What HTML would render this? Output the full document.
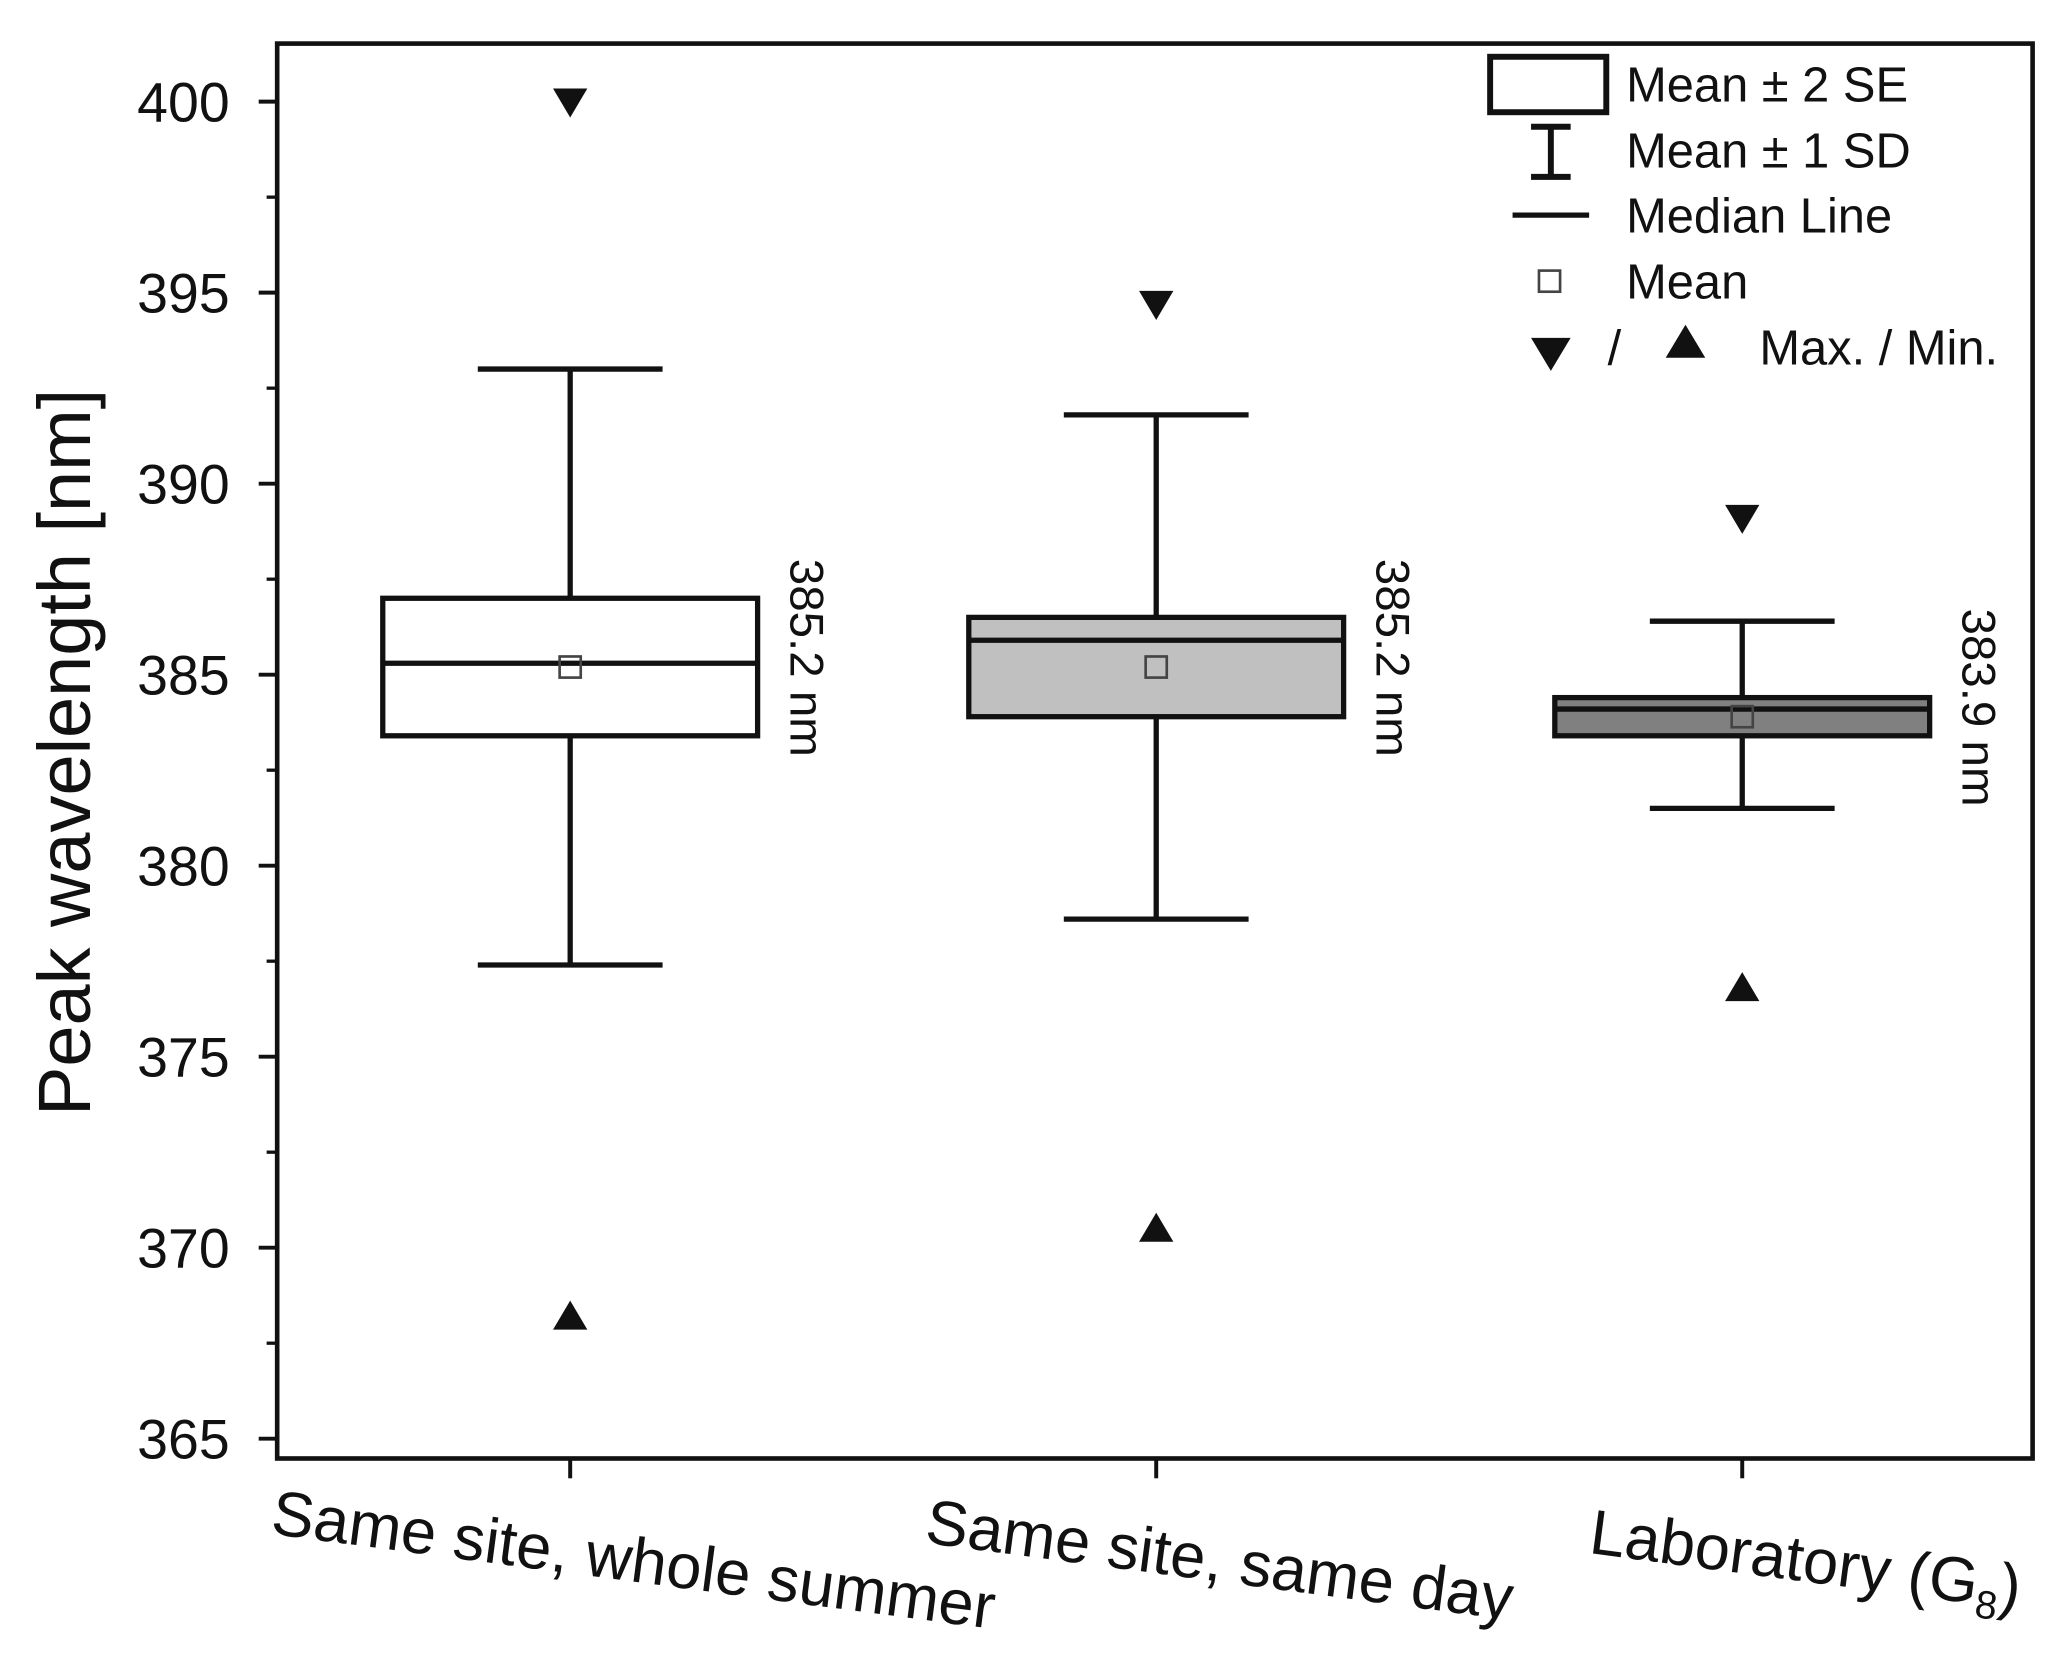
<!DOCTYPE html>
<html><head><meta charset="utf-8"><style>html,body{margin:0;padding:0;background:#fff}svg{display:block}</style></head>
<body>
<svg id="chart" width="2059" height="1673" viewBox="0 0 1560 1267.5" xmlns="http://www.w3.org/2000/svg" font-family="Liberation Sans, sans-serif">
<rect width="1560" height="1267.5" fill="#fff"/>
<g id="marks"></g>
<rect x="210" y="33" width="1330" height="1072" fill="none" stroke="#111" stroke-width="3.5"/>
<text transform="translate(68,570) rotate(-90)" text-anchor="middle" font-size="56" fill="#111">Peak wavelength [nm]</text>
<g font-size="37" fill="#111">
<rect x="1129" y="43" width="88" height="42" fill="#fff" stroke="#111" stroke-width="4.5"/>
<path d="M1160 96h30M1175 96v38M1160 134h30" stroke="#111" stroke-width="4.5" fill="none"/>
<path d="M1146 163h58" stroke="#111" stroke-width="4"/>
<rect x="1166" y="205" width="16" height="16" fill="#fff" stroke="#444" stroke-width="2"/>
<path d="M1160 256h30l-15 25z M1262 271h30l-15 -25z" fill="#111"/>
<text x="1232" y="77">Mean ± 2 SE</text>
<text x="1232" y="127">Mean ± 1 SD</text>
<text x="1232" y="176">Median Line</text>
<text x="1232" y="226">Mean</text>
<text x="1218" y="276">/</text>
<text x="1333" y="276">Max. / Min.</text>
</g>
<script>
const categories = ["Same site, whole summer","Same site, same day","Laboratory (G"];
const boxTop = [387.0, 386.5, 384.4];
const boxBottom = [383.4, 383.9, 383.4];
const medians = [385.3, 385.9, 384.1];
const means = [385.2, 385.2, 383.9];
const sdHigh = [393.0, 391.8, 386.4];
const sdLow = [377.4, 378.6, 381.5];
const maxVals = [400.0, 394.7, 389.1];
const minVals = [368.2, 370.5, 376.8];
const meanLabels = ["385.2 nm","385.2 nm","383.9 nm"];
const fills = ["#ffffff","#c0c0c0","#808080"];
const yTicks = [365,370,375,380,385,390,395,400];

const NS="http://www.w3.org/2000/svg";
const g=document.getElementById('marks');
function y(v){return 77+(400-v)*(1090-77)/35;}
function x(i){return 432+i*444;}
function mk(tag,attrs,parent){const e=document.createElementNS(NS,tag);for(const k in attrs)e.setAttribute(k,attrs[k]);(parent||g).appendChild(e);return e;}

yTicks.forEach(t=>{
  const l=mk('line',{x1:196,x2:210,y1:y(t),y2:y(t),stroke:'#111','stroke-width':3});
  
  
  const tx=mk('text',{x:174,y:y(t)+15,'text-anchor':'end','font-size':42,fill:'#111'});
  tx.textContent=t;
  
  
});
for(let v=367.5;v<400;v+=5){
  const l=mk('line',{x1:202,x2:210,y1:y(v),y2:y(v),stroke:'#111','stroke-width':2.5});
  
  
}
categories.forEach((c,i)=>{
  const cx=x(i);
  const t=mk('line',{x1:cx,x2:cx,y1:1105,y2:1120,stroke:'#111','stroke-width':3});
  
  
  const wh=mk('path',{d:`M${cx-70} ${y(sdHigh[i])}h140M${cx} ${y(sdHigh[i])}V${y(sdLow[i])}M${cx-70} ${y(sdLow[i])}h140`,stroke:'#111','stroke-width':4,fill:'none'});
  
  
  const b=mk('rect',{x:cx-142,y:y(boxTop[i]),width:284,height:y(boxBottom[i])-y(boxTop[i]),fill:fills[i],stroke:'#111','stroke-width':4});
  
  
  const m=mk('line',{x1:cx-142,x2:cx+142,y1:y(medians[i]),y2:y(medians[i]),stroke:'#111','stroke-width':4});
  
  
  const mn=mk('rect',{x:cx-8,y:y(means[i])-8,width:16,height:16,fill:'none',stroke:'#444','stroke-width':2});
  
  
  const yM=y(maxVals[i]);
  const mx=mk('path',{d:`M${cx-13} ${yM-10}h26l-13 22z`,fill:'#111'});
  
  
  const yN=y(minVals[i]);
  const mi=mk('path',{d:`M${cx-13} ${yN+10}h26l-13 -22z`,fill:'#111'});
  
  
  const lx=cx+167, ly=y(means[i])-82;
  const lb=mk('text',{transform:`translate(${lx},${ly}) rotate(90)`,'font-size':36,fill:'#111'});
  lb.textContent=meanLabels[i];
  
  
  const xl=mk('text',{transform:`translate(${cx+46},1198) rotate(7.5)`,'text-anchor':'middle','font-size':48,fill:'#111'});
  
  
  const t1=mk('tspan',{},xl); t1.textContent=c;
  if(i==2){
    const t2=mk('tspan',{'font-size':30,dy:10},xl); t2.textContent='8';
    const t3=mk('tspan',{dy:-10},xl); t3.textContent=')';
  }
});
</script>
</svg>
</body></html>
